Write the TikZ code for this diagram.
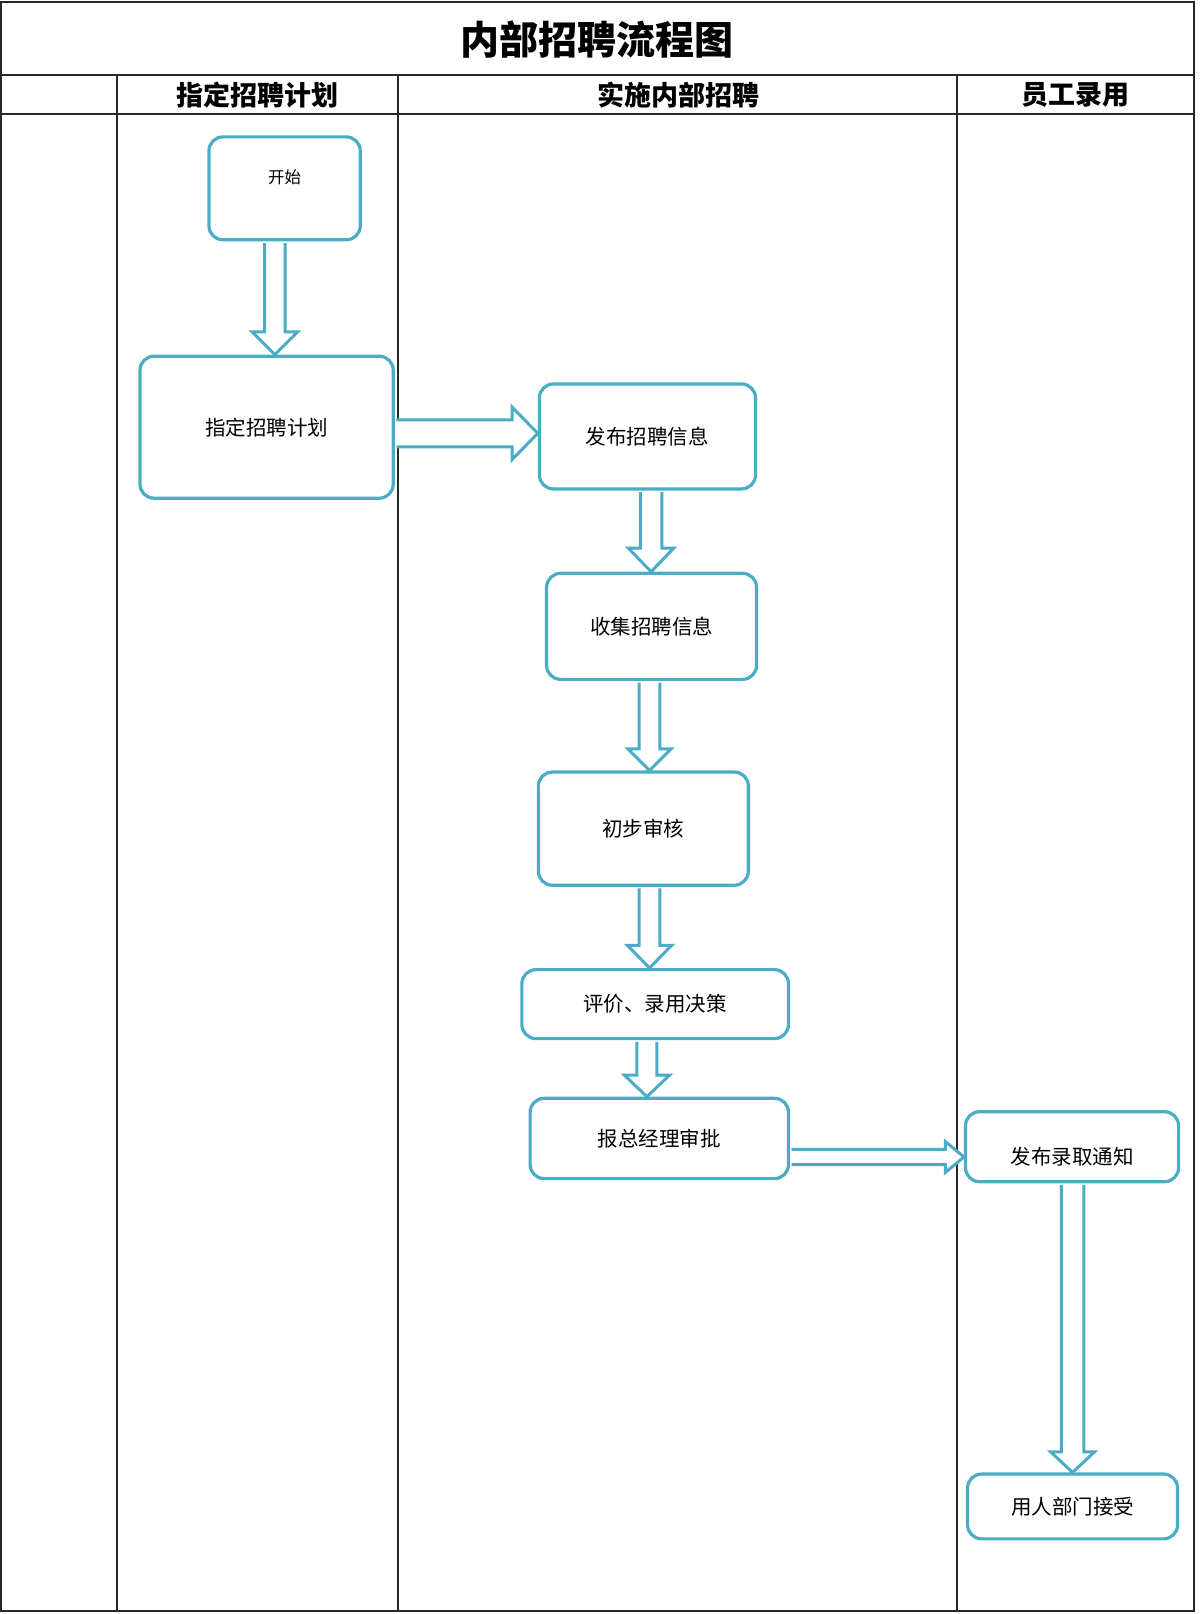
\documentclass[tikz,border=0pt]{standalone}
\usepackage{fontspec}
\setmainfont{Noto Sans CJK SC}
\usetikzlibrary{calc}
\definecolor{acc}{RGB}{75,172,198}
\definecolor{gridc}{RGB}{40,40,40}
\tikzset{
  box/.style={draw=acc, line width=3.2pt, rounded corners=14pt, fill=white, inner sep=0pt,
    font=\fontsize{20.5}{24}\selectfont},
  lbl/.style={inner sep=0pt, font=\fontsize{20.5}{24}\selectfont},
  smalllbl/.style={inner sep=0pt, font=\fontsize{16.5}{20}\selectfont},
  blk/.style={draw=acc, line width=3pt, fill=white, line join=miter},
  gridline/.style={draw=gridc, line width=1.8pt},
  framestyle/.style={draw=gridc, line width=2.2pt},
  hdr/.style={inner sep=0pt, font=\fontsize{27}{32}\selectfont\bfseries},
  ttl/.style={inner sep=0pt, font=\fontsize{39}{46}\selectfont\bfseries}
}
\newcommand\mkbox[6]{\node[box, minimum width={(#4-#2)*1.0292pt}, minimum height={(#5-#3)*1.0292pt}] (#1) at ({(#2+#4)/2},{(#3+#5)/2}) {#6};}
% from, to, dx (display units), half shaft, half head, head length (pt)
\newcommand\blkdown[6]{%
  \draw[blk] let \p1=($(#1.south)+(#3,0)$), \p2=(#2.north) in
    (\x1-#4pt,\y1-1.6pt) -- (\x1-#4pt,\y2+#6pt) -- (\x1-#5pt,\y2+#6pt) -- (\x1,\y2)
    -- (\x1+#5pt,\y2+#6pt) -- (\x1+#4pt,\y2+#6pt) -- (\x1+#4pt,\y1-1.6pt);}
% from, to, dy (display units), half shaft, half head, head length (pt)
\newcommand\blkright[6]{%
  \draw[blk] let \p1=(#1.east), \p2=($(#2.west)+(0,#3)$) in
    (\x1+1.6pt,\y2+#4pt) -- (\x2-#6pt,\y2+#4pt) -- (\x2-#6pt,\y2+#5pt) -- (\x2,\y2)
    -- (\x2-#6pt,\y2-#5pt) -- (\x2-#6pt,\y2-#4pt) -- (\x1+1.6pt,\y2-#4pt);}
\begin{document}
\begin{tikzpicture}[x=1.0292pt,y=-1.0292pt]
\useasboundingbox (0,0) rectangle (1166,1568);
% table
\draw[framestyle] (1,2) rectangle (1160,1565);
\draw[gridline] (1,73) -- (1160,73);
\draw[gridline] (1,111) -- (1160,111);
\draw[gridline] (114,73) -- (114,1565);
\draw[gridline] (387,73) -- (387,1565);
\draw[gridline] (930,73) -- (930,1565);
\node[ttl] (title) at (580,38) {内部招聘流程图};
\node[hdr] (h1) at (250,92) {指定招聘计划};
\node[hdr] (h2) at (659,92) {实施内部招聘};
\node[hdr] (h3) at (1045,92) {员工录用};
% boxes
\mkbox{start}{203}{133}{350}{233}{}
\node[smalllbl] (startlbl) at ($(start.center)+(0,-11)$) {开始};
\mkbox{plan}{136}{346}{382}{484}{指定招聘计划}
\mkbox{pub}{524}{373}{734}{475}{发布招聘信息}
\mkbox{col}{531}{557}{735}{660}{收集招聘信息}
\mkbox{rev}{523}{750}{727}{860}{初步审核}
\mkbox{eval}{507}{942}{766}{1009}{评价、录用决策}
\mkbox{appr}{515}{1067}{766}{1145}{报总经理审批}
\mkbox{notif}{938}{1080}{1145}{1148}{}
\node[lbl] (notiflbl) at ($(notif.center)+(0,10)$) {发布录取通知};
\mkbox{accept}{940}{1432}{1144}{1495}{用人部门接受}
% block arrows
\blkdown{start}{plan}{-9.5}{10.3}{22.6}{22.6}
\blkright{plan}{pub}{-3}{13.4}{26.2}{25.7}
\blkdown{pub}{col}{3.5}{10.8}{22.6}{23.5}
\blkdown{col}{rev}{-2}{10.3}{21.6}{21.6}
\blkdown{rev}{eval}{6}{10.3}{22}{22.6}
\blkdown{eval}{appr}{-8}{10}{22.6}{21.6}
\blkright{appr}{notif}{10}{7.7}{15.4}{18.5}
\blkdown{notif}{accept}{0.5}{11.3}{22}{20.6}
\end{tikzpicture}
\end{document}
